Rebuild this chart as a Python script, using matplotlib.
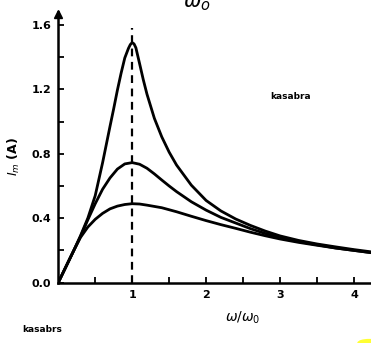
"""
Resonance curves: current amplitude I_m vs w/w0 for three resistances.
"""

import matplotlib
matplotlib.use("Agg")
import matplotlib.pyplot as plt
from matplotlib.patches import Ellipse

# values
x_top = [0, 0.1, 0.2, 0.3, 0.4, 0.5, 0.6, 0.7, 0.75, 0.8, 0.85, 0.9, 0.95,
         0.975, 1.0, 1.025, 1.05, 1.1, 1.15, 1.2, 1.3, 1.4, 1.5, 1.6, 1.8,
         2.0, 2.2, 2.4, 2.6, 2.8, 3.0, 3.25, 3.5, 3.75, 4.0, 4.25]
i_top = [0, 0.095, 0.19, 0.29, 0.40, 0.54, 0.745, 0.97, 1.08, 1.195, 1.30,
         1.395, 1.455, 1.478, 1.49, 1.482, 1.458, 1.36, 1.26, 1.17, 1.02,
         0.905, 0.81, 0.73, 0.605, 0.51, 0.445, 0.395, 0.355, 0.32, 0.29,
         0.262, 0.24, 0.222, 0.205, 0.19]

x_mid = [0, 0.1, 0.2, 0.3, 0.4, 0.5, 0.6, 0.7, 0.8, 0.9, 1.0, 1.1, 1.2, 1.3,
         1.4, 1.5, 1.6, 1.8, 2.0, 2.2, 2.4, 2.6, 2.8, 3.0, 3.25, 3.5, 3.75,
         4.0, 4.25]
i_mid = [0, 0.095, 0.19, 0.285, 0.39, 0.49, 0.58, 0.65, 0.705, 0.737,
         0.745, 0.735, 0.71, 0.675, 0.637, 0.60, 0.565, 0.502, 0.45, 0.405,
         0.37, 0.335, 0.305, 0.28, 0.255, 0.235, 0.215, 0.20, 0.185]

x_low = [0, 0.1, 0.2, 0.3, 0.4, 0.5, 0.6, 0.7, 0.8, 0.9, 1.0, 1.1, 1.2, 1.4,
         1.6, 1.8, 2.0, 2.2, 2.4, 2.6, 2.8, 3.0, 3.25, 3.5, 3.75, 4.0, 4.25]
i_low = [0, 0.095, 0.19, 0.28, 0.345, 0.393, 0.43, 0.458, 0.475, 0.485,
         0.49, 0.488, 0.481, 0.465, 0.44, 0.412, 0.385, 0.36, 0.337, 0.313,
         0.291, 0.271, 0.25, 0.232, 0.215, 0.20, 0.185]

x_ticks = [1, 2, 3, 4]
y_ticks = [0.0, 0.4, 0.8, 1.2, 1.6]


def main():
    fig = plt.figure(figsize=(3.71, 3.43), dpi=100)
    ax = fig.add_axes([0.157, 0.176, 0.843, 0.789])

    for xs, ys in [(x_top, i_top), (x_mid, i_mid), (x_low, i_low)]:
        ax.plot(xs, ys, color="black", lw=2.0, solid_capstyle="round",
                solid_joinstyle="round")
    ax.plot([1, 1], [0, 1.58], color="black", lw=1.6, ls=(0, (3.5, 2.5)))

    ax.set_xlim(0, 4.23)
    ax.set_ylim(0, 1.68)
    for s in ["top", "right"]:
        ax.spines[s].set_visible(False)
    for s in ["left", "bottom"]:
        ax.spines[s].set_linewidth(1.8)
    ax.plot([0], [1.67], marker="^", color="black", ms=6, clip_on=False)

    ax.set_xticks(x_ticks)
    ax.set_xticks([0.5, 1.5, 2.5, 3.5], minor=True)
    ax.set_yticks(y_ticks)
    ax.set_yticks([0.2, 0.6, 1.0, 1.4], minor=True)
    ax.set_xticklabels([str(v) for v in x_ticks], fontweight="bold", fontsize=8)
    ax.set_yticklabels([f"{v:.1f}" for v in y_ticks], fontweight="bold",
                       fontsize=8)
    ax.tick_params(which="both", direction="in", length=4, width=1.3, pad=5)

    fig.text(0.653, 0.073, r"$\omega/\omega_0$", fontsize=10, ha="center",
             va="center", fontweight="bold")
    fig.text(0.038, 0.543, r"$I_m$ (A)", fontsize=9, rotation=90,
             ha="center", va="center", fontweight="bold")
    fig.text(0.53, 0.99, r"$\omega_o$", fontsize=15, ha="center",
             va="center", fontweight="bold")
    fig.text(0.728, 0.72, "kasabra", fontsize=6.5, fontweight="bold",
             ha="left", va="center")
    fig.text(0.059, 0.038, "kasabrs", fontsize=6.5, fontweight="bold",
             ha="left", va="center")
    fig.patches.append(Ellipse((0.995, 0.0), 0.06, 0.02,
                               transform=fig.transFigure, color="#ffff33",
                               figure=fig))

    fig.savefig("out.png", dpi=100)


if __name__ == "__main__":
    main()
